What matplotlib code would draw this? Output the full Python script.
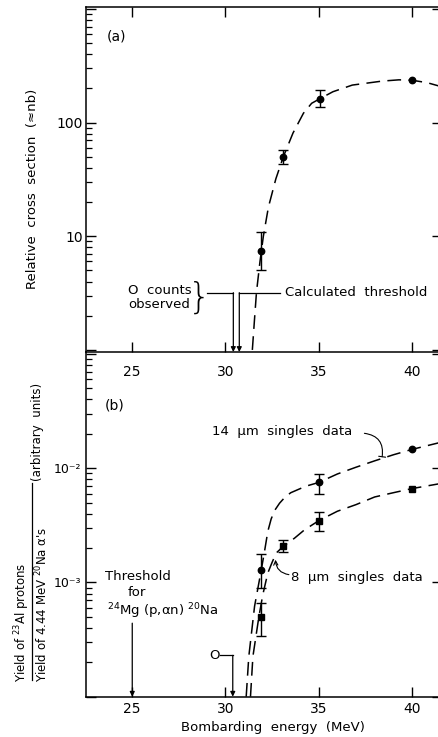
import numpy as np
import matplotlib
matplotlib.use('Agg')
import matplotlib.pyplot as plt
from matplotlib.ticker import FixedLocator, LogLocator, NullFormatter
from matplotlib.lines import Line2D

# ---------------- data ----------------
energy_ticks = [25, 30, 35, 40]
energy_tick_labels = ['25', '30', '35', '40']

# panel (a): relative cross section (~nb)
a_energy = [31.9, 33.1, 35.05]
a_sigma = [7.4, 50, 162]
a_sigma_low = [5.0, 43, 136]
a_sigma_high = [11.0, 58, 194]
a_energy_noerr = [40.0]
a_sigma_noerr = [236]
a_curve_energy = [31.44, 31.55, 31.66, 31.85, 32.03, 32.3, 32.7, 33.1, 33.62, 34.18,
                  34.62, 35.05, 35.76, 36.8, 38.4, 39.3, 40.0, 40.8, 41.45]
a_curve_sigma = [1.0, 1.8, 3.2, 6.0, 10, 18, 32, 50, 81, 121,
                 148, 162, 187, 214, 232, 238, 236, 225, 210]
a_yticks = [1, 10, 100, 1000]
a_ytick_labels = ['', '10', '100', '']
a_zero_counts_energy = [30.42]
a_calc_threshold_energy = [30.74]

# panel (b): yield ratio (arbitrary units)
b14_energy = [31.92, 35.0]
b14_yield = [1.29e-3, 7.5e-3]
b14_low = [8.9e-4, 6.0e-3]
b14_high = [1.79e-3, 8.9e-3]
b14_energy_noerr = [40.0]
b14_yield_noerr = [1.46e-2]
b14_curve_energy = [31.11, 31.25, 31.56, 31.92, 32.1, 32.27, 32.45, 32.65, 32.9, 33.2,
                    33.5, 34.3, 35.0, 36.0, 37.0, 38.0, 39.0, 40.0, 41.45]
b14_curve_yield = [1e-4, 2.25e-4, 6.2e-4, 1.29e-3, 1.9e-3, 2.8e-3, 3.6e-3, 4.3e-3, 4.94e-3, 5.6e-3,
                   6.1e-3, 6.95e-3, 7.5e-3, 8.9e-3, 1.02e-2, 1.16e-2, 1.31e-2, 1.46e-2, 1.67e-2]

b8_energy = [31.93, 33.1, 35.0]
b8_yield = [5.0e-4, 2.07e-3, 3.47e-3]
b8_low = [3.37e-4, 1.83e-3, 2.83e-3]
b8_high = [6.6e-4, 2.33e-3, 4.1e-3]
b8_energy_noerr = [40.0]
b8_yield_noerr = [6.63e-3]
b8_curve_energy = [31.34, 31.47, 31.79, 32.0, 32.27, 32.5, 32.72, 33.1, 33.7, 34.24,
                   35.0, 36.0, 37.0, 38.0, 39.0, 40.0, 41.45]
b8_curve_yield = [1e-4, 2.25e-4, 5.0e-4, 7.8e-4, 1.21e-3, 1.5e-3, 1.81e-3, 2.07e-3, 2.44e-3, 2.89e-3,
                  3.47e-3, 4.2e-3, 4.8e-3, 5.6e-3, 6.1e-3, 6.63e-3, 7.3e-3]
b_yticks = [1e-4, 1e-3, 1e-2, 1e-1]
b_ytick_labels = ['', '10⁻³', '10⁻²', '']
b_mg_threshold_energy = [25.0]
b_zero_energy = [30.39]

# ---------------- style ----------------
plt.rcParams['font.family'] = ['DejaVu Sans']
plt.rcParams['mathtext.default'] = 'regular'
W, H = 439, 737
fig = plt.figure(figsize=(W / 100, H / 100), dpi=100)


def fx(x):
    return x / W


def fy(y):
    return 1 - y / H


LEFT, RIGHT = 86, 442
ax_a = fig.add_axes([fx(LEFT), fy(352), (RIGHT - LEFT) / W, (352 - 7) / H])
ax_b = fig.add_axes([fx(LEFT), fy(696.7), (RIGHT - LEFT) / W, (696.7 - 352) / H])

dash = (0, (9, 4.8))
lw = 1.1
ebkw = dict(color='black', ms=4.6, capsize=3.5, elinewidth=1.0, capthick=1.0, lw=0)

for ax in (ax_a, ax_b):
    ax.patch.set_visible(False)
    ax.set_yscale('log')
    ax.set_xlim(22.52, 41.61)
    ax.xaxis.set_major_locator(FixedLocator(energy_ticks))
    ax.set_xticklabels(energy_tick_labels)
    for s in ax.spines.values():
        s.set_linewidth(1.1)
    ax.yaxis.set_minor_locator(LogLocator(base=10, subs=np.arange(2, 10)))
    ax.yaxis.set_minor_formatter(NullFormatter())
    ax.tick_params(axis='both', which='major', direction='in', length=7.5, width=1.0, labelsize=10)
    ax.tick_params(axis='y', which='minor', direction='in', length=4.3, width=0.9,
                   left=True, right=False)
    ax.tick_params(axis='y', which='major', left=True, right=True)

# ---------------- panel (a) ----------------
ax_a.set_ylim(0.959, 1041)
ax_a.set_yticks(a_yticks)
ax_a.set_yticklabels(a_ytick_labels)
ax_a.tick_params(axis='y', which='major', pad=2)
ax_a.tick_params(axis='x', which='major', top=True, bottom=True, pad=9)

ax_a.plot(a_curve_energy, a_curve_sigma, color='black', lw=lw, ls=dash)
a_e = np.array(a_sigma)
ax_a.errorbar(a_energy, a_sigma,
              yerr=[a_e - np.array(a_sigma_low), np.array(a_sigma_high) - a_e],
              fmt='o', **ebkw)
ax_a.plot(a_energy_noerr, a_sigma_noerr, 'o', color='black', ms=4.6)

fig.text(fx(117), fy(36), '(a)', ha='center', va='center', fontsize=10)

# annotation "0 counts observed"
y_lead_a = 3.19
ya0 = ax_a.get_ylim()[0]
arrow_kw = dict(arrowstyle='-|>', color='black', lw=0.9, mutation_scale=7, shrinkA=0, shrinkB=0)
ax_a.plot([29.03, a_zero_counts_energy[0]], [y_lead_a, y_lead_a], color='black', lw=0.9)
ax_a.annotate('', xy=(a_zero_counts_energy[0], ya0), xytext=(a_zero_counts_energy[0], y_lead_a),
              arrowprops=arrow_kw)
ax_a.plot([32.9, a_calc_threshold_energy[0]], [y_lead_a, y_lead_a], color='black', lw=0.9)
ax_a.annotate('', xy=(a_calc_threshold_energy[0], ya0), xytext=(a_calc_threshold_energy[0], y_lead_a),
              arrowprops=arrow_kw)
fig.text(fx(128), fy(290), 'O  counts', ha='left', va='center', fontsize=9.5)
fig.text(fx(128), fy(304), 'observed', ha='left', va='center', fontsize=9.5)
fig.text(fx(199), fy(298), '}', ha='center', va='center', fontsize=26, fontweight='light')
fig.text(fx(285), fy(292), 'Calculated  threshold', ha='left', va='center', fontsize=9.5)

fig.text(fx(33), fy(189), 'Relative  cross  section  (≈nb)', rotation=90,
         ha='center', va='center', fontsize=9.5)

# ---------------- panel (b) ----------------
ax_b.set_ylim(1.0e-4, 0.104)
ax_b.set_yticks(b_yticks)
ax_b.set_yticklabels(b_ytick_labels)
ax_b.tick_params(axis='y', which='major', pad=3.5, labelsize=9)
ax_b.tick_params(axis='x', which='major', top=False, bottom=True, pad=4)
ax_b.spines['top'].set_visible(False)

ax_b.plot(b14_curve_energy, b14_curve_yield, color='black', lw=lw, ls=dash)
ax_b.plot(b8_curve_energy, b8_curve_yield, color='black', lw=lw, ls=dash)
y14 = np.array(b14_yield)
ax_b.errorbar(b14_energy, b14_yield,
              yerr=[y14 - np.array(b14_low), np.array(b14_high) - y14], fmt='o', **ebkw)
ax_b.plot(b14_energy_noerr, b14_yield_noerr, 'o', color='black', ms=4.6)
y8 = np.array(b8_yield)
ax_b.errorbar(b8_energy, b8_yield,
              yerr=[y8 - np.array(b8_low), np.array(b8_high) - y8], fmt='s', **ebkw)
ax_b.plot(b8_energy_noerr, b8_yield_noerr, 's', color='black', ms=4.6)

fig.text(fx(115), fy(405), '(b)', ha='center', va='center', fontsize=10)

# curve labels
fig.text(fx(212), fy(432), '14  μm  singles  data', ha='left', va='center', fontsize=9.5)
ax_b.annotate('', xy=(38.4, 1.26e-2), xytext=(37.45, 2.02e-2),
              arrowprops=dict(arrowstyle='-[, widthB=0.25, lengthB=0',
                              connectionstyle='arc3,rad=-0.5', color='black', lw=0.8,
                              shrinkA=0, shrinkB=0))
fig.text(fx(291), fy(578), '8  μm  singles  data', ha='left', va='center', fontsize=9.5)
ax_b.annotate('', xy=(32.68, 1.58e-3), xytext=(33.4, 1.17e-3),
              arrowprops=dict(arrowstyle='->, head_length=0.3, head_width=0.15',
                              connectionstyle='arc3,rad=-0.4', color='black', lw=0.8,
                              shrinkA=0, shrinkB=0))

# threshold annotation
yb0 = ax_b.get_ylim()[0]
fig.text(fx(138), fy(576), 'Threshold', ha='center', va='center', fontsize=9.5)
fig.text(fx(137), fy(593), 'for', ha='center', va='center', fontsize=9.5)
fig.text(fx(107), fy(611), '$^{24}$Mg (p,αn) $^{20}$Na', ha='left', va='center', fontsize=9.5)
ax_b.annotate('', xy=(b_mg_threshold_energy[0], yb0), xytext=(b_mg_threshold_energy[0], 4.4e-4),
              arrowprops=arrow_kw)
# "0" annotation
y_lead_b = 2.3e-4
fig.text(fx(215), fy(655.5), 'O', ha='center', va='center', fontsize=9.5)
ax_b.plot([29.72, b_zero_energy[0]], [y_lead_b, y_lead_b], color='black', lw=0.9)
ax_b.annotate('', xy=(b_zero_energy[0], yb0), xytext=(b_zero_energy[0], y_lead_b),
              arrowprops=arrow_kw)

fig.text(fx(273), fy(728), 'Bombarding  energy  (MeV)', ha='center', va='center', fontsize=9.5)

# y label of panel (b): fraction
fig.text(fx(22.5), fy(682), 'Yield of $^{23}$Al protons', rotation=90, rotation_mode='anchor',
         ha='left', va='center', fontsize=8.5)
fig.text(fx(42.5), fy(682), "Yield of 4.44 MeV $^{20}$Na α's", rotation=90, rotation_mode='anchor',
         ha='left', va='center', fontsize=8.5)
fig.add_artist(Line2D([fx(32), fx(32)], [fy(680), fy(483)], color='black', lw=0.9,
                      transform=fig.transFigure))
fig.text(fx(37.5), fy(481), '(arbitrary  units)', rotation=90, rotation_mode='anchor',
         ha='left', va='center', fontsize=8.5)

fig.savefig('out.png', dpi=100)
